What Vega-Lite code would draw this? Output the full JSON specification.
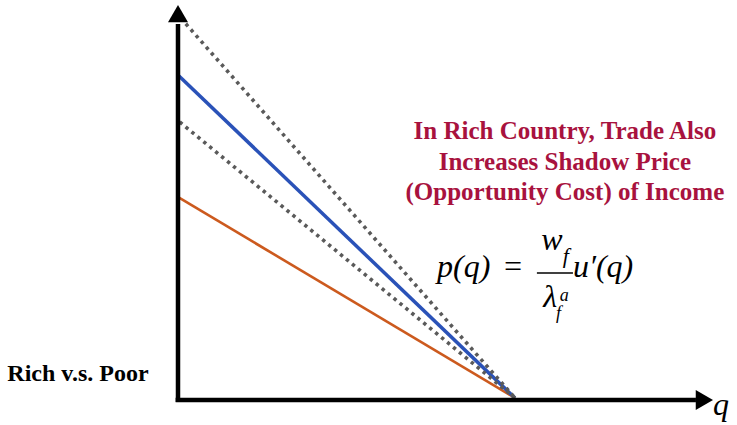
{
  "$schema": "https://vega.github.io/schema/vega-lite/v6.json",
  "width": 737,
  "height": 425,
  "autosize": {"type": "fit", "contains": "padding"},
  "padding": 0,
  "background": "white",
  "config": {"view": {"stroke": null}},
  "datasets": {
    "curves": [
      {"series": "orange", "x": 0.03, "y": 6.01, "x2": 10, "y2": 0},
      {"series": "blue", "x": 0.03, "y": 9.66, "x2": 10, "y2": 0},
      {"series": "dotted", "x": 0.08, "y": 11.4, "x2": 10, "y2": 0},
      {"series": "dotted", "x": 0.05, "y": 8.28, "x2": 10, "y2": 0}
    ],
    "axes": [
      {"x": 0, "y": -0.12, "x2": 0, "y2": 11.22},
      {"x": -0.07, "y": -0.06, "x2": 15.37, "y2": -0.06}
    ],
    "arrowUp": [{"x": 0, "y": 11.53}],
    "arrowRight": [{"x": 15.62, "y": -0.06}],
    "title": [
      {"x": 11.48, "y": 7.77, "label": "In Rich Country, Trade Also"},
      {"x": 11.48, "y": 6.84, "label": "Increases Shadow Price"},
      {"x": 11.48, "y": 5.94, "label": "(Opportunity Cost) of Income"}
    ],
    "eqMain": [
      {"x": 7.686, "y": 3.63, "label": "p(q)"},
      {"x": 9.614, "y": 3.63, "label": "="},
      {"x": 11.72, "y": 3.63, "label": "u′(q)"},
      {"x": 10.78, "y": 4.44, "label": "w"},
      {"x": 10.84, "y": 2.73, "label": "λ"}
    ],
    "eqSub": [
      {"x": 11.42, "y": 4.05, "label": "f"}
    ],
    "eqSmall": [
      {"x": 11.22, "y": 2.38, "label": "f"},
      {"x": 11.33, "y": 2.9, "label": "a"}
    ],
    "fracBar": [{"x": 10.65, "y": 3.75, "x2": 11.72, "y2": 3.75}],
    "leftLabel": [{"x": -2.967, "y": 0.51, "label": "Rich v.s. Poor"}],
    "qLabel": [{"x": 15.875, "y": -0.51, "label": "q"}]
  },
  "encoding": {
    "x": {"field": "x", "type": "quantitative", "axis": null,
          "scale": {"domain": [-5.282, 16.588], "nice": false, "zero": false}},
    "y": {"field": "y", "type": "quantitative", "axis": null,
          "scale": {"domain": [-0.81, 11.94], "nice": false, "zero": false}}
  },
  "layer": [
    {
      "data": {"name": "curves"},
      "transform": [{"filter": "datum.series === 'orange'"}],
      "mark": {"type": "rule", "color": "#CC5A1E", "strokeWidth": 2.6},
      "encoding": {"x2": {"field": "x2"}, "y2": {"field": "y2"}}
    },
    {
      "data": {"name": "curves"},
      "transform": [{"filter": "datum.series === 'blue'"}],
      "mark": {"type": "rule", "color": "#2A52B8", "strokeWidth": 3.5},
      "encoding": {"x2": {"field": "x2"}, "y2": {"field": "y2"}}
    },
    {
      "data": {"name": "curves"},
      "transform": [{"filter": "datum.series === 'dotted'"}],
      "mark": {"type": "rule", "color": "#5a5a5a", "strokeWidth": 3.6, "strokeDash": [3.4, 4.3], "strokeCap": "butt"},
      "encoding": {"x2": {"field": "x2"}, "y2": {"field": "y2"}}
    },
    {
      "data": {"name": "axes"},
      "mark": {"type": "rule", "color": "black", "strokeWidth": 4.5, "strokeCap": "butt"},
      "encoding": {"x2": {"field": "x2"}, "y2": {"field": "y2"}}
    },
    {
      "data": {"name": "arrowUp"},
      "mark": {"type": "point", "shape": "triangle-up", "filled": true, "size": 400, "color": "black", "opacity": 1, "strokeWidth": 0}
    },
    {
      "data": {"name": "arrowRight"},
      "mark": {"type": "point", "shape": "triangle-right", "filled": true, "size": 400, "color": "black", "opacity": 1, "strokeWidth": 0}
    },
    {
      "data": {"name": "title"},
      "mark": {"type": "text", "font": "Liberation Serif", "fontWeight": "bold", "fontSize": 25, "color": "#A8123E", "align": "center", "baseline": "alphabetic"},
      "encoding": {"text": {"field": "label"}}
    },
    {
      "data": {"name": "eqMain"},
      "mark": {"type": "text", "font": "Liberation Serif", "fontStyle": "italic", "fontSize": 32, "color": "black", "align": "left", "baseline": "alphabetic"},
      "encoding": {"text": {"field": "label"}}
    },
    {
      "data": {"name": "eqSub"},
      "mark": {"type": "text", "font": "Liberation Serif", "fontStyle": "italic", "fontSize": 22, "color": "black", "align": "left", "baseline": "alphabetic"},
      "encoding": {"text": {"field": "label"}}
    },
    {
      "data": {"name": "eqSmall"},
      "mark": {"type": "text", "font": "Liberation Serif", "fontStyle": "italic", "fontSize": 18, "color": "black", "align": "left", "baseline": "alphabetic"},
      "encoding": {"text": {"field": "label"}}
    },
    {
      "data": {"name": "fracBar"},
      "mark": {"type": "rule", "color": "black", "strokeWidth": 1.6},
      "encoding": {"x2": {"field": "x2"}, "y2": {"field": "y2"}}
    },
    {
      "data": {"name": "leftLabel"},
      "mark": {"type": "text", "font": "Liberation Serif", "fontWeight": "bold", "fontSize": 24, "color": "black", "align": "center", "baseline": "alphabetic"},
      "encoding": {"text": {"field": "label"}}
    },
    {
      "data": {"name": "qLabel"},
      "mark": {"type": "text", "font": "Liberation Serif", "fontStyle": "italic", "fontSize": 32, "color": "black", "align": "left", "baseline": "alphabetic"},
      "encoding": {"text": {"field": "label"}}
    }
  ]
}
